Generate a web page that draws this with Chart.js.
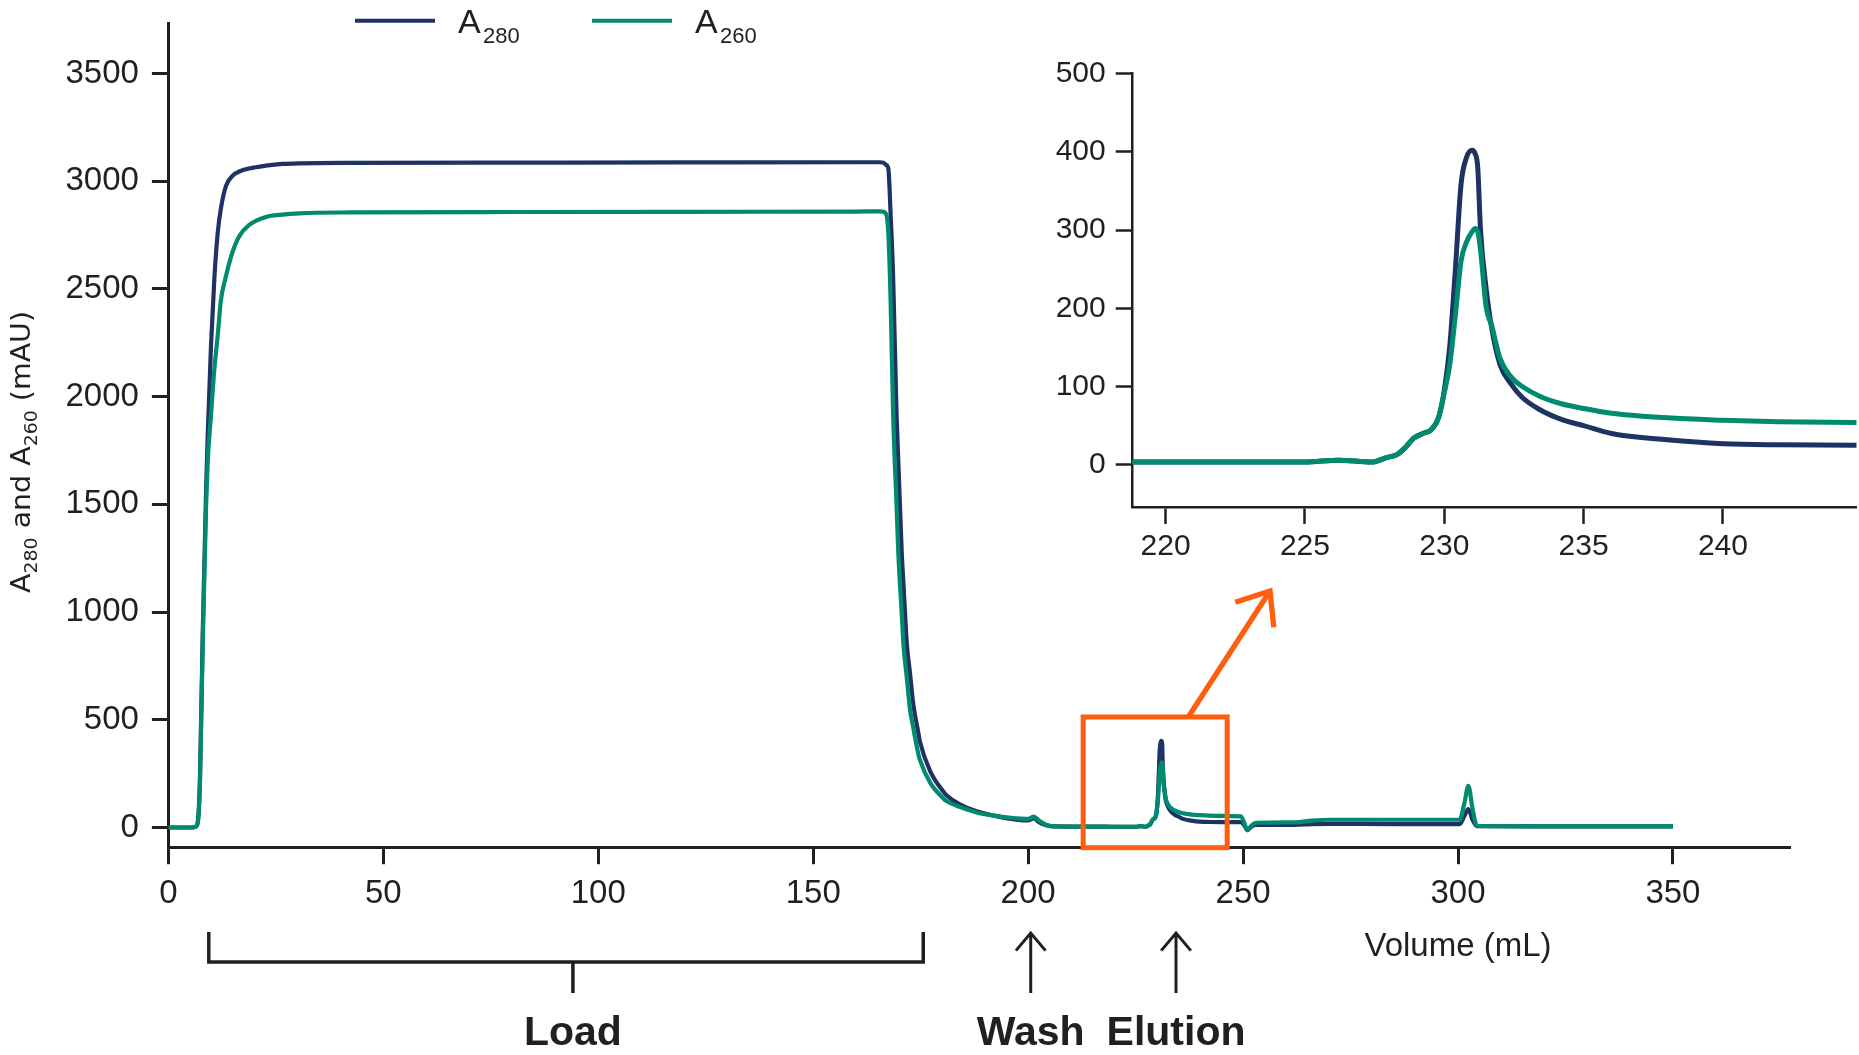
<!DOCTYPE html>
<html>
<head>
<meta charset="utf-8">
<title>A280 and A260 during load, wash and elution</title>
<script src="https://cdn.jsdelivr.net/npm/chart.js@4.4.1/dist/chart.umd.min.js"></script>
<style>
  html, body { margin: 0; padding: 0; background: #fff; }
  #wrap { position: relative; width: 1859px; height: 1055px; }
  #main { position: absolute; left: 0; top: 0; }
  #inset { position: absolute; left: 1000px; top: 30px; }
</style>
</head>
<body>
<div id="wrap">
  <canvas id="main" width="1859" height="1055"></canvas>
  <canvas id="inset" width="859" height="540"></canvas>
</div>
<script>
const ink = "#231f20";
const navy = "#1f3264";
const teal = "#008a6e";
const orange = "#ff5e0e";
const sans = "'Liberation Sans', Arial, sans-serif";

//volume (mL)
const volume = [
  0, 4.5, 6.0, 6.6, 7.0, 7.35, 7.98, 8.76, 9.15, 9.9, 10.7, 11.5, 12.2, 13.4, 14.9, 16.5, 18.8, 22.7, 26.5, 30.5,
  42, 80, 120, 160, 165.5, 166.3, 167.0, 167.5, 168.0, 168.6, 169.4, 169.8, 170.6, 171.0, 171.8, 172.5, 173.3, 174.5, 174.8, 177.2,
  180.3, 181.0, 184.2, 188, 192, 196, 200, 201.3, 202.5, 204, 206, 215, 220, 225, 226.2, 227.4, 227.9, 228.3, 228.6, 228.9,
  229.3, 229.5, 229.8, 230.0, 230.2, 230.4, 230.6, 230.8, 231.0, 231.1, 231.2, 231.3, 231.5, 231.7, 232.0, 232.4, 232.8, 233.4, 234.2, 235.0,
  236.0, 238.0, 240.0, 242.0, 244.8, 247, 249.5, 250.3, 251.0, 252.0, 253.0, 262.0, 266.0, 270.0, 285.0, 300.4, 301.5, 302.4, 303.4, 304.4,
  320, 350,
];
//absorbance at 280 nm (mAU)
const a280 = [
  0, 0, 1, 8, 60, 240, 900, 1560, 1820, 2232, 2552, 2765, 2872, 2978, 3025, 3045, 3059, 3072, 3080, 3083,
  3085, 3086, 3087, 3088, 3088, 3086, 3075, 3055, 2850, 2552, 1913, 1700, 1274, 1130, 847, 720, 570, 435, 401, 262,
  166, 150, 106, 75, 55, 40, 33, 42, 25, 12, 5, 4, 3.5, 3.5, 6, 3.5, 9, 13, 22, 34,
  41, 44, 61, 95, 153, 251, 358, 393, 402, 398, 380, 300, 226, 175, 128, 103, 86, 71, 58, 50,
  40, 32, 27, 25.5, 25, 25, 25, 10, -12, 5, 12, 12, 16, 17, 16, 16, 55, 85, 35, 6,
  5, 5,
];
//absorbance at 260 nm (mAU)
const a260 = [
  0, 0, 1, 8, 55, 208, 847, 1488, 1700, 1913, 2130, 2290, 2445, 2560, 2670, 2745, 2797, 2834, 2845, 2851,
  2855, 2857, 2858, 2859, 2860, 2858, 2845, 2750, 2450, 1913, 1490, 1274, 990, 847, 690, 550, 460, 337, 315, 208,
  135, 123, 95, 70, 55, 45, 40, 50, 33, 14, 5, 4, 3.5, 3.5, 6, 3.5, 9, 13, 22, 34,
  41, 44, 61, 92, 129, 192, 260, 285, 298, 302, 298, 275, 202, 178, 136, 112, 100, 88, 78, 72,
  66, 60, 57, 55, 54, 53, 52, 20, -12, 10, 22, 24, 32, 36, 36, 36, 115, 193, 85, 8,
  5, 5,
];

const mainXTicks = [0, 50, 100, 150, 200, 250, 300, 350];
const mainYTicks = [0, 500, 1000, 1500, 2000, 2500, 3000, 3500];
const insetXTicks = [220, 225, 230, 235, 240];
const insetYTicks = [0, 100, 200, 300, 400, 500];

//phase marks along the volume axis (mL)
const loadStart = 9.4, loadEnd = 175.6, loadLabelAt = 94.1;
const washAt = 200.6, elutionAt = 234.4;
//part of the trace that the inset enlarges
const zoomFrom = 212.8, zoomTo = 246.3, zoomTop = 513;

const toPoints = (ys) => volume.map((v, i) => ({ x: v, y: ys[i] }));

//A260 goes on top of A280
const lineSets = (width) => [
  { label: "A260", data: toPoints(a260), borderColor: teal, borderWidth: width, order: 0 },
  { label: "A280", data: toPoints(a280), borderColor: navy, borderWidth: width, order: 1 },
];

//lineHeight is kept small on the vertical axes so the label padding
//does not push the plot area down
const axis = (min, max, ticks, fontSize, lineW, pad, fit, lh) => ({
  type: "linear",
  min: min,
  max: max,
  afterBuildTicks: (s) => { s.ticks = ticks.map((v) => ({ value: v })); },
  afterFit: fit,
  border: { color: ink, width: lineW },
  grid: { drawOnChartArea: false, tickColor: ink, tickLength: 16.5, tickWidth: lineW },
  ticks: {
    color: ink, font: { family: sans, size: fontSize, lineHeight: lh || 1.2 }, padding: pad,
    maxRotation: 0, autoSkip: false, callback: (v) => String(v),
  },
});

//text with subscript pieces, centred on 0 and fitted to a given length
const drawParts = (ctx, parts, length, size, subSize, shift, family) => {
  const fontOf = (sub) => (sub ? subSize : size) + "px " + family;
  let total = 0;
  for (const [t, sub] of parts) { ctx.font = fontOf(sub); total += ctx.measureText(t).width; }
  ctx.scale(length / total, 1);
  let x = -total / 2;
  ctx.textAlign = "left";
  ctx.textBaseline = "alphabetic";
  for (const [t, sub] of parts) {
    ctx.font = fontOf(sub);
    ctx.fillText(t, x, sub ? shift : 0);
    x += ctx.measureText(t).width;
  }
};

const arrowHead = (ctx, sx, sy, tx, ty, len, spread) => {
  const a = Math.atan2(ty - sy, tx - sx) + Math.PI;
  ctx.beginPath();
  ctx.moveTo(sx, sy);
  ctx.lineTo(tx, ty);
  ctx.moveTo(tx + len * Math.cos(a - spread), ty + len * Math.sin(a - spread));
  ctx.lineTo(tx, ty);
  ctx.lineTo(tx + len * Math.cos(a + spread), ty + len * Math.sin(a + spread));
  ctx.stroke();
};

const annotations = {
  id: "annotations",
  afterDraw(chart) {
    const { ctx, chartArea } = chart;
    const x = chart.scales.x, y = chart.scales.y;
    ctx.save();
    ctx.fillStyle = ink;

    //legend
    [[navy, 355, "280"], [teal, 592, "260"]].forEach(([c, lx, sub]) => {
      ctx.strokeStyle = c;
      ctx.lineWidth = 4;
      ctx.beginPath();
      ctx.moveTo(lx, 20.7);
      ctx.lineTo(lx + 80, 20.7);
      ctx.stroke();
      ctx.textAlign = "left";
      ctx.textBaseline = "alphabetic";
      ctx.font = "34px " + sans;
      ctx.fillText("A", lx + 103, 33.3);
      ctx.font = "22px " + sans;
      ctx.fillText(sub, lx + 128, 43.3);
    });

    //y title
    ctx.save();
    ctx.translate(29.5, 452);
    ctx.rotate(-Math.PI / 2);
    drawParts(ctx, [["A", 0], ["280", 1], [" and ", 0], ["A", 0], ["260", 1], [" (mAU)", 0]],
      282, 27, 18, 7.7, "'DejaVu Sans', sans-serif");
    ctx.restore();

    //x title
    ctx.textAlign = "center";
    ctx.textBaseline = "alphabetic";
    ctx.font = "33px " + sans;
    ctx.fillText("Volume (mL)", x.getPixelForValue(300), 955.5);

    //box round the elution peak and arrow to the inset
    const bx0 = x.getPixelForValue(zoomFrom), bx1 = x.getPixelForValue(zoomTo);
    const by0 = y.getPixelForValue(zoomTop);
    ctx.strokeStyle = orange;
    ctx.lineWidth = 5;
    ctx.strokeRect(bx0, by0, bx1 - bx0, chartArea.bottom - by0);
    ctx.lineWidth = 5.3;
    arrowHead(ctx, bx0 + (bx1 - bx0) * 0.73, by0, 1270, 591, 36.5, 0.68);

    //load bracket
    ctx.strokeStyle = ink;
    ctx.lineWidth = 3.5;
    const l0 = x.getPixelForValue(loadStart), l1 = x.getPixelForValue(loadEnd), lm = x.getPixelForValue(loadLabelAt);
    ctx.beginPath();
    ctx.moveTo(l0, 932);
    ctx.lineTo(l0, 962);
    ctx.lineTo(l1, 962);
    ctx.lineTo(l1, 932);
    ctx.moveTo(lm, 962);
    ctx.lineTo(lm, 993);
    ctx.stroke();

    //wash and elution arrows
    ctx.lineWidth = 3;
    [washAt, elutionAt].forEach((v) => {
      const px = x.getPixelForValue(v);
      arrowHead(ctx, px, 993, px, 933, 23, 0.7);
    });

    ctx.textAlign = "center";
    ctx.font = "bold 41px " + sans;
    ctx.fillText("Load", lm, 1045);
    ctx.fillText("Wash", x.getPixelForValue(washAt), 1045);
    ctx.fillText("Elution", x.getPixelForValue(elutionAt), 1045);
    ctx.restore();
  },
};

const baseOptions = {
  responsive: false,
  animation: false,
  elements: { point: { radius: 0 }, line: { cubicInterpolationMode: "monotone", fill: false } },
  plugins: { legend: { display: false }, tooltip: { enabled: false } },
};

new Chart(document.getElementById("main"), {
  type: "line",
  data: { datasets: lineSets(4.2) },
  options: {
    ...baseOptions,
    layout: { padding: { top: 23.7, right: 68.7, left: 0, bottom: 0 } },
    scales: {
      x: axis(0, 377.3, mainXTicks, 33, 3, 10, (s) => { s.height = 207.3; }),
      y: axis(-93.8, 3731, mainYTicks, 33, 3, 13, (s) => { s.width = 168.4; }, 0.2),
    },
  },
  plugins: [annotations],
});

new Chart(document.getElementById("inset"), {
  type: "line",
  data: { datasets: lineSets(5) },
  options: {
    ...baseOptions,
    layout: { padding: { top: 43.5, right: 2.3, left: 0, bottom: 0 } },
    scales: {
      x: axis(218.8, 244.8, insetXTicks, 30, 2.5, 5, (s) => { s.height = 62.6; }),
      y: axis(-54.4, 500, insetYTicks, 30, 2.5, 10, (s) => { s.width = 132.2; }, 0.2),
    },
  },
});
</script>
</body>
</html>
